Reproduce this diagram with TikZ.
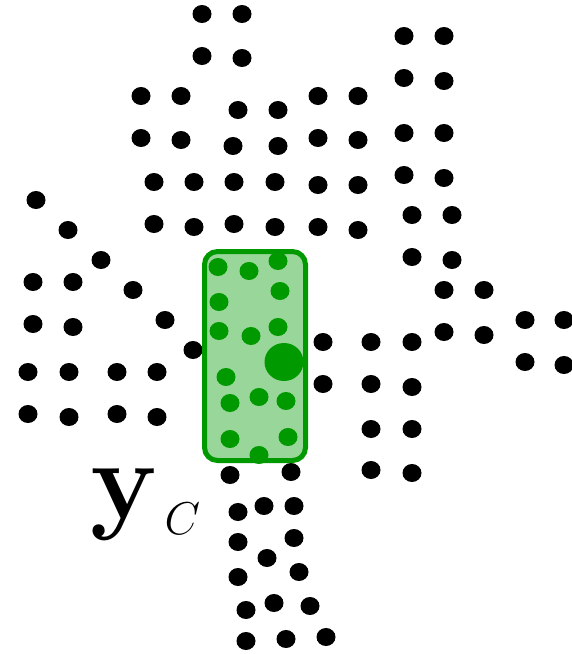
\documentclass[tikz,border=0pt]{standalone}
\usepackage{fix-cm}
\usepackage{amsmath, amssymb}
\usepackage{xcolor}
\usepackage{tikz}
\definecolor{mygreen}{RGB}{0,153,0}

\begin{document}
\begin{tikzpicture}[x=1pt, y=-1pt,
    pt/.style={fill=black},
    gpt/.style={fill=mygreen}]
        \useasboundingbox (0,0) rectangle (572,654);
        \clip (0,0) rectangle (572,654);
        % Upper points
        \foreach \px/\py in {202/14, 242/14, 202/56, 242/58, 141/96, 181/96,
                238/110, 278/110, 141/138, 181/140, 233/146, 278/146,
                154/182, 194/182, 234/182, 275/182, 154/224, 194/227, 234/224, 275/227,
                318/96, 358/96, 318/138, 358/140, 318/185, 358/185, 318/227, 358/230,
                404/36, 444/36, 404/78, 444/81, 404/133, 444/133, 404/175, 444/178,
                412/215, 452/215, 412/257, 452/260}
            \fill[pt] (\px,\py) ellipse (9.5 and 9);
        % Right points
        \foreach \px/\py in {444/290, 484/290, 444/332, 484/335, 525/320, 564/320,
                525/362, 564/365, 323/342, 371/342, 412/342, 323/384, 371/384, 412/387,
                371/429, 412/429, 371/470, 412/473}
            \fill[pt] (\px,\py) ellipse (9.5 and 9);
        % Left points
        \foreach \px/\py in {36/200, 68/230, 101/260, 133/290, 165/320, 193/350,
                33/282, 73/282, 33/324, 73/327, 28/372, 69/372, 117/372, 157/372,
                28/414, 69/417, 117/414, 157/417}
            \fill[pt] (\px,\py) ellipse (9.5 and 9);
        % Lower points
        \foreach \px/\py in {230/475, 291/472, 238/512, 264/506, 294/506,
                238/542, 294/538, 267/558, 238/577, 299/572,
                246/610, 274/603, 310/606, 246/641, 286/639, 326/637}
            \fill[pt] (\px,\py) ellipse (9.5 and 9);
        % Selected block
        \fill[mygreen!40] (204.5,251.5) [rounded corners=13] rectangle (305.5,460.5);
        \foreach \px/\py in {218/267, 249/271, 278/261, 219/302, 280/291,
                219/331, 251/336, 278/327, 226/377, 230/403, 259/397, 286/401,
                230/439, 288/437, 259/455}
            \fill[gpt] (\px,\py) ellipse (9.5 and 9);
        \fill[gpt] (284,362) ellipse (19.5 and 19);
        \draw[mygreen, line width=5, rounded corners=13] (204.5,251.5) rectangle (305.5,460.5);
        % Label
        \node[anchor=base west, inner sep=0, font=\fontsize{112}{116}\selectfont]
            (yc) at (90,518)
            {$\mathbf{y}_{\kern 8pt\hbox{\fontsize{46}{48}\selectfont$C$}}$};
      \end{tikzpicture}
\end{document}
